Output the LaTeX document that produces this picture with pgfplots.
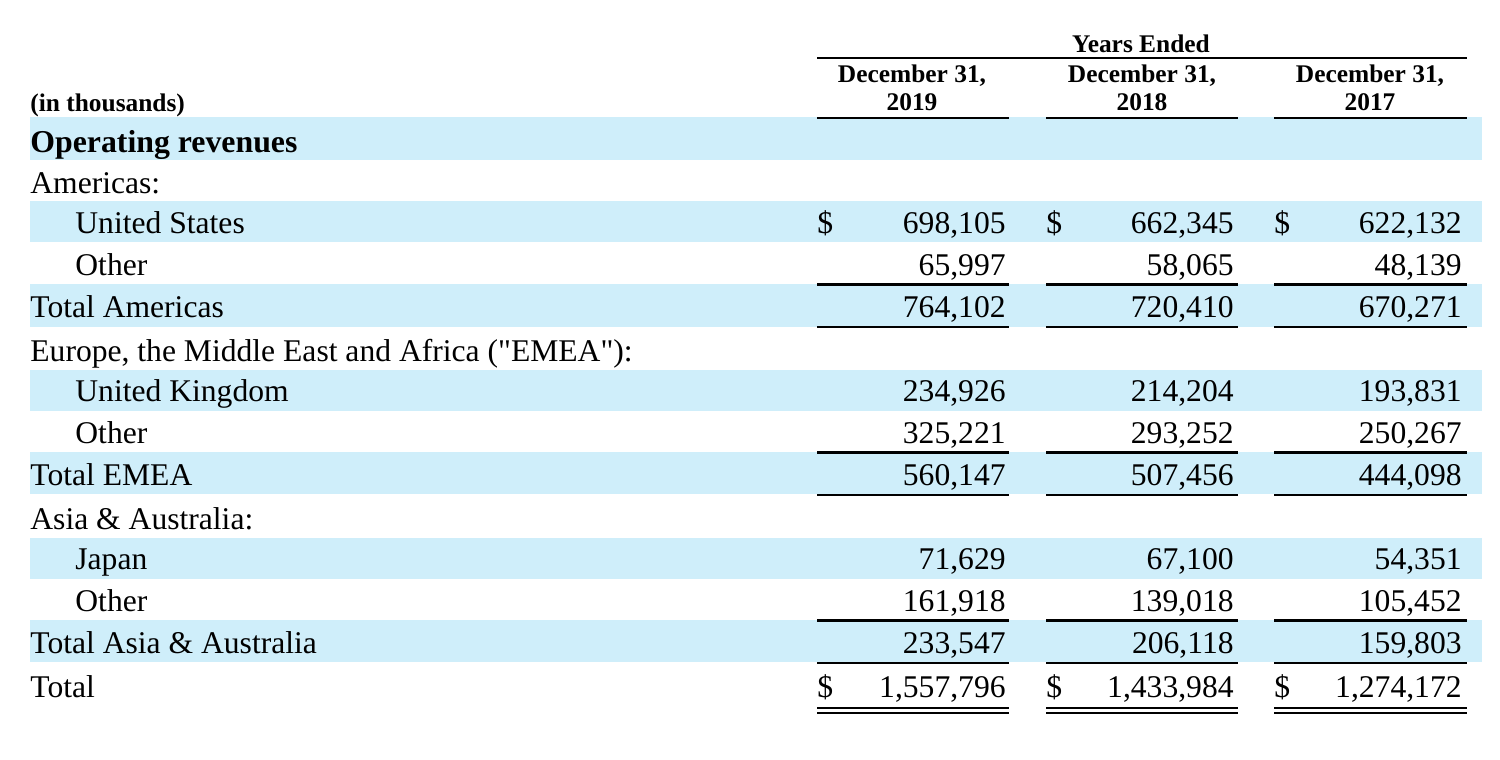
\documentclass[border=0pt]{standalone}
\usepackage{fontspec}
\setmainfont{Liberation Serif}[Ligatures=TeXOff]
\usepackage{pgfplots}
\usepackage{pgfplotstable}
\pgfplotsset{compat=1.18}
\definecolor{band}{RGB}{207,238,250}

\pgfplotstableread[col sep=semicolon]{
x;y;t
30;193;Americas:
75;233;United States
75;275;Other
30;317;Total Americas
30;361;Europe, the Middle East and Africa (\symbol{34}EMEA\symbol{34}):
75;401;United Kingdom
75;443;Other
30;485;Total EMEA
30;529;Asia \& Australia:
75;569;Japan
75;611;Other
30;653;Total Asia \& Australia
30;697;Total
}\labtab

\pgfplotstableread[col sep=semicolon]{
x;y;t
1006;233;698,105
1234;233;662,345
1462;233;622,132
1006;275;65,997
1234;275;58,065
1462;275;48,139
1006;317;764,102
1234;317;720,410
1462;317;670,271
1006;401;234,926
1234;401;214,204
1462;401;193,831
1006;443;325,221
1234;443;293,252
1462;443;250,267
1006;485;560,147
1234;485;507,456
1462;485;444,098
1006;569;71,629
1234;569;67,100
1462;569;54,351
1006;611;161,918
1234;611;139,018
1462;611;105,452
1006;653;233,547
1234;653;206,118
1462;653;159,803
1006;697;1,557,796
1234;697;1,433,984
1462;697;1,274,172
}\numtab

\pgfplotstableread[col sep=semicolon]{
x;y;t
817;233;\$
1046;233;\$
1274;233;\$
817;697;\$
1046;697;\$
1274;697;\$
}\dollartab

\pgfplotstableread[col sep=semicolon]{
x;y;t
1141;52;Years Ended
912;82;December 31,
912;110;2019
1142;82;December 31,
1142;110;2018
1370;82;December 31,
1370;110;2017
}\hdrtab

\begin{document}
\begin{tikzpicture}
\begin{axis}[
  width=750pt, height=380pt, scale only axis,
  xmin=0, xmax=1500, ymin=0, ymax=760, y dir=reverse,
  hide axis, clip=false,
]
% frame for bounding box
\addplot[draw=none, forget plot] coordinates {(0,0) (1500,760)};
% blue bands
\addplot[fill=band, draw=none] coordinates {(30,117) (1482,117) (1482,159.5) (30,159.5)} -- cycle;
\addplot[fill=band, draw=none] coordinates {(30,201) (1482,201) (1482,242) (30,242)} -- cycle;
\addplot[fill=band, draw=none] coordinates {(30,284) (1482,284) (1482,327) (30,327)} -- cycle;
\addplot[fill=band, draw=none] coordinates {(30,370) (1482,370) (1482,411) (30,411)} -- cycle;
\addplot[fill=band, draw=none] coordinates {(30,452) (1482,452) (1482,494) (30,494)} -- cycle;
\addplot[fill=band, draw=none] coordinates {(30,538) (1482,538) (1482,579) (30,579)} -- cycle;
\addplot[fill=band, draw=none] coordinates {(30,620) (1482,620) (1482,662) (30,662)} -- cycle;
% rules
\addplot[black, line width=1.25pt] coordinates {(817,58) (1467,58)};
\foreach \a/\b in {817/1009, 1046/1238, 1274/1467}{
  \addplot[black, line width=1.25pt] coordinates {(\a,118) (\b,118)};
  \addplot[black, line width=1.25pt] coordinates {(\a,284.5) (\b,284.5)};
  \addplot[black, line width=1.25pt] coordinates {(\a,327) (\b,327)};
  \addplot[black, line width=1.25pt] coordinates {(\a,452.5) (\b,452.5)};
  \addplot[black, line width=1.25pt] coordinates {(\a,495) (\b,495)};
  \addplot[black, line width=1.25pt] coordinates {(\a,620.5) (\b,620.5)};
  \addplot[black, line width=1.25pt] coordinates {(\a,663) (\b,663)};
  \addplot[black, line width=1pt] coordinates {(\a,708) (\b,708)};
  \addplot[black, line width=1pt] coordinates {(\a,713) (\b,713)};
}
% header text
\addplot[draw=none, mark=none, nodes near coords, point meta=explicit symbolic,
  every node near coord/.append style={anchor=base, inner sep=0pt,
    font=\fontsize{12.7pt}{14pt}\selectfont\bfseries}]
  table[x=x, y=y, meta=t] {\hdrtab};
\addplot[draw=none, mark=none, nodes near coords, point meta=explicit symbolic,
  every node near coord/.append style={anchor=base west, inner sep=0pt,
    font=\fontsize{12.7pt}{14pt}\selectfont\bfseries}]
  coordinates {(30,111) [(in thousands)]};
\addplot[draw=none, mark=none, nodes near coords, point meta=explicit symbolic,
  every node near coord/.append style={anchor=base west, inner sep=0pt,
    font=\fontsize{15.9pt}{18pt}\selectfont\bfseries}]
  coordinates {(30,152) [Operating revenues]};
% row labels
\addplot[draw=none, mark=none, nodes near coords, point meta=explicit symbolic,
  every node near coord/.append style={anchor=base west, inner sep=0pt,
    font=\fontsize{15.8pt}{18pt}\selectfont}]
  table[x=x, y=y, meta=t] {\labtab};
% dollar signs
\addplot[draw=none, mark=none, nodes near coords, point meta=explicit symbolic,
  every node near coord/.append style={anchor=base west, inner sep=0pt,
    font=\fontsize{15.8pt}{18pt}\selectfont}]
  table[x=x, y=y, meta=t] {\dollartab};
% values
\addplot[draw=none, mark=none, nodes near coords, point meta=explicit symbolic,
  every node near coord/.append style={anchor=base east, inner sep=0pt,
    font=\fontsize{15.8pt}{18pt}\selectfont}]
  table[x=x, y=y, meta=t] {\numtab};
\end{axis}
\end{tikzpicture}
\end{document}
